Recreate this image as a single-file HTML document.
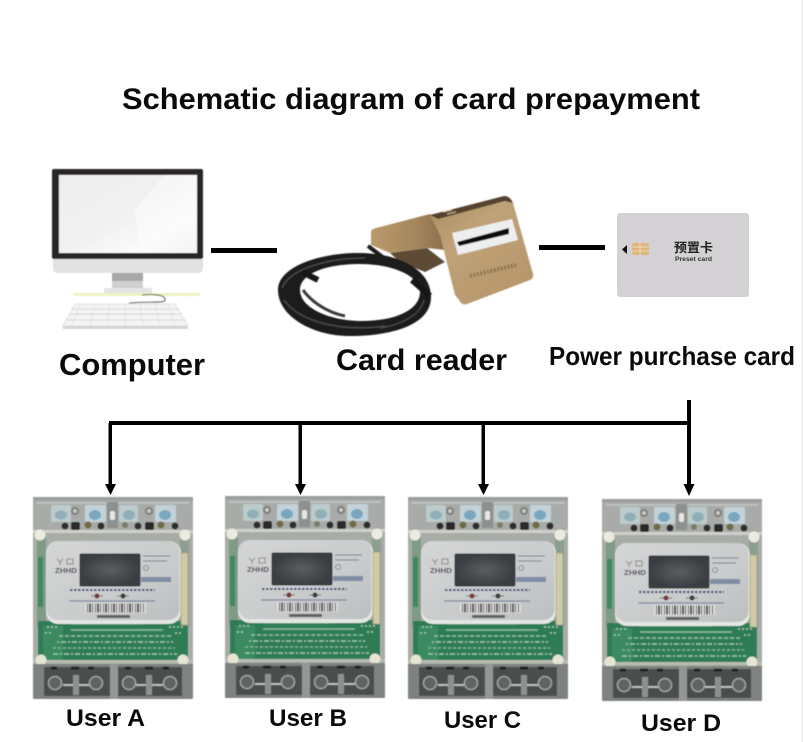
<!DOCTYPE html>
<html><head><meta charset="utf-8"><style>
html,body{margin:0;padding:0;background:#fff}
svg{display:block}
text{font-family:"Liberation Sans","Noto Sans CJK SC",sans-serif;font-weight:bold;fill:#0a0a0a}
</style></head><body>
<svg width="803" height="742" viewBox="0 0 803 742" xmlns="http://www.w3.org/2000/svg">
<defs>
<filter id="b" x="-5%" y="-5%" width="110%" height="110%"><feGaussianBlur stdDeviation="0.6"/></filter>
<filter id="m" x="-3%" y="-3%" width="106%" height="106%"><feGaussianBlur stdDeviation="0.55"/></filter>
<linearGradient id="scr" x1="0" y1="0" x2="1" y2="1"><stop offset="0" stop-color="#eeeeee"/><stop offset=".5" stop-color="#f1f1f1"/><stop offset=".75" stop-color="#fafafa"/><stop offset="1" stop-color="#e9e9e9"/></linearGradient>
<linearGradient id="gold" x1="0" y1="0" x2=".8" y2="1"><stop offset="0" stop-color="#a98c63"/><stop offset=".4" stop-color="#c0a278"/><stop offset="1" stop-color="#b69669"/></linearGradient>
<linearGradient id="gold2" x1="0" y1="0" x2="1" y2="0"><stop offset="0" stop-color="#b89a6c"/><stop offset=".6" stop-color="#a5875d"/><stop offset="1" stop-color="#8b6f4c"/></linearGradient>
<linearGradient id="face" x1="0" y1="0" x2="1" y2="1"><stop offset="0" stop-color="#d4d5d6"/><stop offset=".6" stop-color="#c9cbcc"/><stop offset="1" stop-color="#bcbfc0"/></linearGradient>
<radialGradient id="lcd"><stop offset="0" stop-color="#5b5e60"/><stop offset="1" stop-color="#3a3d42"/></radialGradient>
<g id="meter" filter="url(#m)">
  <rect x="0" y="0" width="160" height="202" rx="1.500" fill="#a2a6a4"/>
  <!-- top block -->
  <rect x="0" y="0" width="160" height="35" fill="#a8aba8"/>
  <rect x="0" y="0" width="160" height="3" fill="#9a9e9c"/>
  <path d="M4 6H156" stroke="#c5c7c4" stroke-width="1.500"/>
  <rect x="18" y="8" width="20" height="17" rx="2" fill="#bccbcb"/><ellipse cx="28" cy="18" rx="6" ry="4.500" fill="#8fb0b8"/>
  <rect x="52" y="8" width="21" height="17" rx="2" fill="#c2d2d8"/><ellipse cx="62" cy="18" rx="6" ry="5" fill="#7aa6c0"/>
  <rect x="86" y="8" width="19" height="17" rx="2" fill="#bccbcb"/><ellipse cx="96" cy="18" rx="6" ry="5" fill="#8fb0b8"/>
  <rect x="122" y="8" width="21" height="17" rx="2" fill="#c2d2d8"/><ellipse cx="132" cy="18" rx="6" ry="5" fill="#7aa6c0"/>
  <circle cx="42" cy="14" r="4" fill="#7a7c78"/><circle cx="42" cy="14" r="2" fill="#c9cac4"/>
  <circle cx="116" cy="14" r="4" fill="#7a7c78"/><circle cx="116" cy="14" r="2" fill="#c9cac4"/>
  <rect x="74" y="5" width="11" height="26" fill="#8c908f"/><rect x="77" y="14" width="5" height="9" rx="2" fill="#e6e8e6"/>
  <circle cx="32" cy="29" r="3.500" fill="#2d2e2d"/><rect x="38" y="25" width="9" height="8" rx="2" fill="#2b2c2b"/><circle cx="55" cy="28" r="3.500" fill="#706a46"/><circle cx="68" cy="29" r="3.500" fill="#2d2e2d"/>
  <circle cx="92" cy="28" r="3" fill="#7a7b6a"/><circle cx="105" cy="29" r="3.500" fill="#2d2e2d"/><rect x="112" y="25" width="9" height="8" rx="2" fill="#2b2c2b"/><circle cx="128" cy="28" r="3.500" fill="#706a46"/><circle cx="142" cy="29" r="3.500" fill="#2d2e2d"/>
  <rect x="0" y="33" width="160" height="3" fill="#cfd0cc"/>
  <!-- sides -->
  <rect x="0" y="36" width="160" height="132" fill="#a7aca6"/>
  <rect x="4" y="40" width="9" height="90" fill="#7f9a85"/>
  <rect x="5" y="60" width="5" height="50" fill="#3e8a61"/>
  <rect x="147" y="40" width="9" height="90" fill="#8c9e90"/>
  <!-- green board -->
  <rect x="5" y="124" width="150" height="42" fill="#2f7c56"/>
  <rect x="10" y="129" width="20" height="34" fill="#3a8a62"/>
  <g fill="none">
    <path d="M38 127H110" stroke="#5fa37d" stroke-width="1.200"/>
    <path d="M38 133H130" stroke="#8dbb9a" stroke-width="1.400"/>
    <path d="M26 139H140" stroke="#8fbf9e" stroke-width="1.500" stroke-dasharray="4 2"/>
    <path d="M24 145H140" stroke="#9bc6a6" stroke-width="1.500" stroke-dasharray="2 2 5 2"/>
    <path d="M20 151H142" stroke="#82b592" stroke-width="1.500" stroke-dasharray="3 2"/>
    <path d="M20 157H144" stroke="#9bc6a6" stroke-width="1.500" stroke-dasharray="5 2 2 2"/>
    <path d="M14 130H24M136 130H150M12 136H20M142 136H150" stroke="#a5c9ad" stroke-width="1.500" stroke-dasharray="2 2"/>
  </g>
  <rect x="0" y="163" width="160" height="3" fill="#b7bcb3"/>
  <!-- face -->
  <rect x="13" y="44" width="135" height="83" rx="12" fill="#e4e6e3"/>
  <rect x="13.500" y="44" width="133" height="79" rx="11" fill="url(#face)"/>
  <rect x="47" y="57" width="60" height="32" rx="1.500" fill="url(#lcd)" stroke="#2d3034" stroke-width="1"/>
  <text x="22" y="76" font-size="7.500" textLength="22" lengthAdjust="spacingAndGlyphs" style="fill:#444650">ZHHD</text>
  <path d="M24 62l3 3 3-3M27 65v3" stroke="#777" fill="none" stroke-width=".8"/><rect x="34" y="62" width="6" height="5" fill="none" stroke="#777" stroke-width=".8"/>
  <path d="M110 59h27M110 64h24" stroke="#75798a" stroke-width="1"/><circle cx="113" cy="71" r="2.500" fill="none" stroke="#777" stroke-width=".8"/>
  <rect x="108" y="80" width="30" height="5" fill="#5b6a90" opacity=".65"/>
  <path d="M37 93H122" stroke="#3a4578" stroke-width="2" stroke-dasharray="2.500 1.500"/>
  <circle cx="64" cy="99" r="2.500" fill="#7d2a22"/><circle cx="90" cy="99" r="2.500" fill="#2f2f2f"/>
  <path d="M58 99h12M84 99h12" stroke="#555" stroke-width=".8"/>
  <path d="M36 104H122" stroke="#8087a0" stroke-width="1.200"/>
  <rect x="52" y="106" width="61" height="10" fill="#dedede"/>
  <path d="M54 111H111" stroke="#484848" stroke-width="9" stroke-dasharray="1 1 2 1 1 2"/>
  <rect x="64" y="118" width="33" height="3" fill="#3e3e3e" opacity=".75"/>
  <rect x="148" y="56" width="7" height="72" fill="#d0cba6" stroke="#a3a084" stroke-width=".8"/>
  <circle cx="7" cy="38" r="5.500" fill="#ecebe0"/><circle cx="152" cy="38" r="5.500" fill="#ecebe0"/>
  <circle cx="8" cy="163" r="5.500" fill="#e6e5d4"/><circle cx="150" cy="163" r="5.500" fill="#e6e5d4"/>
  <!-- bottom block -->
  <rect x="0" y="167" width="160" height="35" rx="1" fill="#7e8280"/>
  <rect x="11" y="170" width="66" height="29" fill="#4b4e4d"/><rect x="85" y="170" width="64" height="29" fill="#4b4e4d"/>
  <g fill="#5f6362" stroke="#a0a3a1" stroke-width="1.500">
    <circle cx="22" cy="186" r="6.500"/><circle cx="63" cy="186" r="6.500"/><circle cx="96" cy="186" r="6.500"/><circle cx="137" cy="186" r="6.500"/>
  </g>
  <path d="M30 188H56M103 188H130" stroke="#c8cac8" stroke-width="1.800"/>
  <rect x="40" y="178" width="6" height="20" fill="#8d908e"/><rect x="113" y="178" width="6" height="20" fill="#8d908e"/>
  <path d="M18 171h6M38 171h8M55 171h6M92 171h6M112 171h8M130 171h6" stroke="#222" stroke-width="3"/>
  <rect x="77" y="167" width="8" height="35" fill="#949794"/>
</g>
</defs>
<rect width="803" height="742" fill="#fff"/>
<rect x="801" y="0" width="2" height="742" fill="#f1f1f1"/>

<text x="122" y="109" font-size="30" textLength="578" lengthAdjust="spacingAndGlyphs">Schematic diagram of card prepayment</text>

<!-- computer -->
<g filter="url(#b)">
  <rect x="112" y="272" width="31" height="9" fill="#a8a8a8"/>
  <rect x="112" y="281" width="31" height="8" fill="#d0d0d0"/>
  <rect x="104" y="288" width="48" height="7" fill="#e4e4e4"/>
  <rect x="73" y="293" width="127" height="3" fill="#f0f2c4"/>
  <path d="M53 259H203V268Q203 273 198 273H58Q53 273 53 268Z" fill="#e1e1e1"/>
  <rect x="52" y="169" width="151" height="90" rx="2" fill="#2b2526"/>
  <rect x="59" y="175" width="138" height="78" fill="url(#scr)"/>
  <path d="M165 175H197V253H140L135 210Z" fill="#fbfbfb" opacity=".6"/>
  <path d="M126 306L130 303C150 301 167 304 165 299C164 294 150 294 142 295" fill="none" stroke="#777" stroke-width="1.200"/>
  <path d="M75 304H175L188 326H63Z" fill="#f4f4f4" stroke="#e2e2e2"/>
  <path d="M72 309H179M69 314H182M66 320H185" stroke="#d6d6d6" stroke-width="1"/>
  <path d="M80 305L72 325M95 305L90 325M110 305L107 325M125 305V325M140 305L143 325M155 305L160 325M168 305L175 325" stroke="#dedede" stroke-width=".8"/>
  <rect x="63" y="326" width="125" height="3" fill="#d4d4d4"/>
</g>
<text x="59" y="375" font-size="31" textLength="146" lengthAdjust="spacingAndGlyphs">Computer</text>

<rect x="211" y="248" width="66" height="5" fill="#000"/>
<rect x="539" y="245" width="66" height="5" fill="#000"/>

<!-- reader -->
<g filter="url(#b)">
  <path d="M390 253L427 248L445 262L425 272L400 262Z" fill="#5d4c39"/>
  <path d="M371 231Q372 229 376 228L430 214L442 230L445 250L427 248L390 253L371 245Z" fill="url(#gold2)"/>
  <path d="M430 215L504 197Q510 196 513 203L533 274Q534 278 530 280L467 304Q462 306 459 300L455 295L440 235Z" fill="url(#gold)"/>
  <path d="M430 215L504 196Q510 196 513 203L505 201L438 219Z" fill="#57432f"/>
  <path d="M443 212L452 210M447 214L456 212" stroke="#cdbca4" stroke-width="1"/>
  <path d="M452 233L512 219L518 240L458 255Z" fill="#eceef0"/>
  <path d="M457 242L509 228L509 234L459 246Z" fill="#111"/>
  <path d="M470 276L516 265" stroke="#6f5a3c" stroke-width="4" stroke-dasharray="2 1.500" opacity=".6"/>
  <path fill-rule="evenodd" d="M355 253C395 252 432 268 431 298C430 325 392 336 350 336C312 336 278 316 278 290C278 268 315 254 355 253ZM360 264C325 264 300 274 300 290C300 308 330 321 362 321C395 321 420 310 420 292C420 276 393 264 360 264Z" fill="#1b1c1e"/>
  <path d="M282 288C290 268 330 258 365 258M284 300C300 322 340 332 385 326M424 300C420 316 400 325 380 328" fill="none" stroke="#4c4e51" stroke-width="1.200"/>
  <path d="M303 290C310 300 325 312 345 316" fill="none" stroke="#3a3b3e" stroke-width="3"/>
  <path d="M302 272L318 280M412 280L430 296" stroke="#141414" stroke-width="6"/>
  <path d="M368 246L384 258" stroke="#1b1c1e" stroke-width="4"/>
</g>
<text x="336" y="370" font-size="30" textLength="171" lengthAdjust="spacingAndGlyphs">Card reader</text>

<!-- card -->
<rect x="617" y="213" width="132" height="84" rx="3" fill="#d4d1d4"/>
<path d="M627 245V254L622 249.500Z" fill="#111"/>
<rect x="632" y="243" width="17" height="12" rx="2" fill="#dcb67c"/>
<path d="M632 247H649M632 251H649M640 243V255" stroke="#f2e3c2" stroke-width=".8"/>
<text x="674" y="252" font-size="12.500" textLength="39" lengthAdjust="spacingAndGlyphs" style="fill:#222">预置卡</text>
<text x="675" y="261" font-size="6" textLength="37" lengthAdjust="spacingAndGlyphs" style="fill:#333">Preset card</text>
<text x="549" y="365" font-size="26" textLength="246" lengthAdjust="spacingAndGlyphs">Power purchase card</text>

<!-- connectors -->
<g fill="#000">
  <rect x="687" y="400" width="4" height="90"/>
  <rect x="109" y="421" width="581" height="4"/>
  <rect x="108.500" y="423" width="3.500" height="64"/>
  <rect x="298.500" y="423" width="3.500" height="64"/>
  <rect x="481.500" y="423" width="3.500" height="64"/>
  <path d="M105 484H116L110.500 495Z"/>
  <path d="M295 484H306L300.500 495Z"/>
  <path d="M478 484H489L483.500 495Z"/>
  <path d="M683.500 484H694.500L689 496Z"/>
</g>

<use href="#meter" transform="translate(33,497)"/>
<use href="#meter" transform="translate(225,496)"/>
<use href="#meter" transform="translate(408,497)"/>
<use href="#meter" transform="translate(602,499)"/>

<text x="66" y="726" font-size="24" textLength="79" lengthAdjust="spacingAndGlyphs">User A</text>
<text x="269" y="726" font-size="24" textLength="78" lengthAdjust="spacingAndGlyphs">User B</text>
<text x="444" y="728" font-size="24" textLength="77" lengthAdjust="spacingAndGlyphs">User C</text>
<text x="641" y="731" font-size="24" textLength="80" lengthAdjust="spacingAndGlyphs">User D</text>
</svg>
</body></html>
